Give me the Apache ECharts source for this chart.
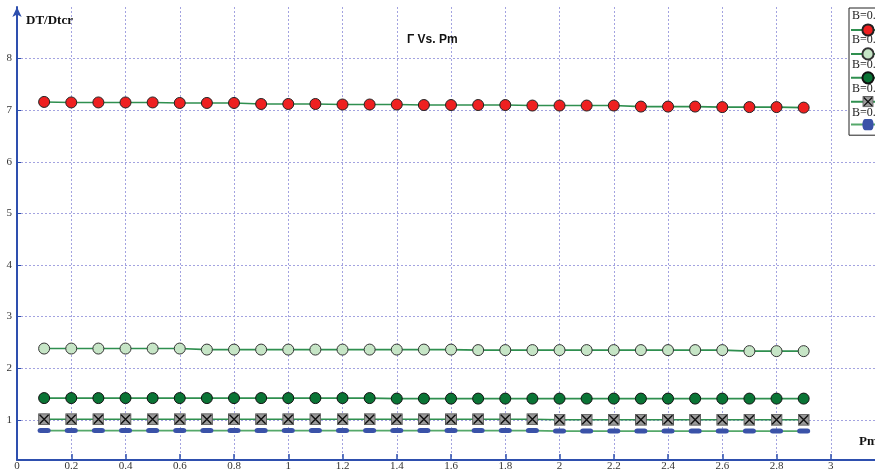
<!DOCTYPE html>
<html>
<head>
<meta charset="utf-8">
<script src="https://cdn.jsdelivr.net/npm/echarts@6/dist/echarts.min.js"></script>
<style>html,body{margin:0;padding:0;background:#fff;}#c{width:875px;height:472px;}</style>
</head>
<body>
<div id="c"></div>
<script>
const pm = [0.1,0.2,0.3,0.4,0.5,0.6,0.7,0.8,0.9,1.0,1.1,1.2,1.3,1.4,1.5,1.6,1.7,1.8,1.9,2.0,2.1,2.2,2.3,2.4,2.5,2.6,2.7,2.8,2.9];
const b01 = [7.16,7.15,7.15,7.15,7.15,7.14,7.14,7.14,7.12,7.12,7.12,7.11,7.11,7.11,7.10,7.10,7.10,7.10,7.09,7.09,7.09,7.09,7.07,7.07,7.07,7.06,7.06,7.06,7.05];
const b03 = [2.38,2.38,2.38,2.38,2.38,2.38,2.36,2.36,2.36,2.36,2.36,2.36,2.36,2.36,2.36,2.36,2.35,2.35,2.35,2.35,2.35,2.35,2.35,2.35,2.35,2.35,2.33,2.33,2.33];
const b05 = [1.42,1.42,1.42,1.42,1.42,1.42,1.42,1.42,1.42,1.42,1.42,1.42,1.42,1.41,1.41,1.41,1.41,1.41,1.41,1.41,1.41,1.41,1.41,1.41,1.41,1.41,1.41,1.41,1.41];
const b07 = [1.01,1.01,1.01,1.01,1.01,1.01,1.01,1.01,1.01,1.01,1.01,1.01,1.01,1.01,1.01,1.01,1.01,1.01,1.01,1.00,1.00,1.00,1.00,1.00,1.00,1.00,1.00,1.00,1.00];
const b09 = [0.79,0.79,0.79,0.79,0.79,0.79,0.79,0.79,0.79,0.79,0.79,0.79,0.79,0.79,0.79,0.79,0.79,0.79,0.79,0.78,0.78,0.78,0.78,0.78,0.78,0.78,0.78,0.78,0.78];
const seriesNames = ['B=0.1','B=0.3','B=0.5','B=0.7','B=0.9'];
const titleText = 'Γ Vs. Pm';
const yName = 'DT/Dtcr';
const xName = 'Pm';

const pair = arr => arr.map((v,i)=>[pm[i], v]);
const xSvg = 'image://data:image/svg+xml;utf8,' + encodeURIComponent('<svg xmlns="http://www.w3.org/2000/svg" width="12" height="12" viewBox="0 0 12 12"><rect x="0.5" y="0.5" width="11" height="11" fill="#9a9a9a" stroke="#555" stroke-width="1"/><path d="M1.5 1.5 L10.5 10.5 M10.5 1.5 L1.5 10.5" stroke="#111" stroke-width="1.4"/></svg>');
const pill = 'path://M3,0 H11 A3,3 0 0 1 11,6 H3 A3,3 0 0 1 3,0 Z';
const lineGreen = '#2f8f4f';
const serif = '"Liberation Serif", "DejaVu Serif", serif';

const chart = echarts.init(document.getElementById('c'));
function mk(name, data, symbol, size, fill, border, lineColor) {
  return {
    name, type: 'line', data: pair(data), symbol, symbolSize: size,
    itemStyle: { color: fill, borderColor: border, borderWidth: border ? 1 : 0 },
    lineStyle: { color: lineColor, width: 1.6 },
    emphasis: { disabled: true }, animation: false
  };
}
chart.setOption({
  animation: false,
  title: [
    { text: titleText, left: 402, top: 29, textStyle: { fontFamily: '"Liberation Sans", Arial, sans-serif', fontWeight: 'bold', fontSize: 12, color: '#111' } },
    { text: yName, left: 21, top: 9, textStyle: { fontFamily: serif, fontWeight: 'bold', fontSize: 13, color: '#111' } },
    { text: xName, left: 859, top: 435, padding: 0, textStyle: { fontFamily: serif, fontWeight: 'bold', fontSize: 13, color: '#111' } }
  ],
  grid: { left: 17, right: 0, top: 7, bottom: 11, containLabel: false },
  legend: [
    { data: seriesNames, orient: 'vertical', left: 849, top: 8, itemWidth: 34, itemHeight: 14, itemGap: 10.3,
      padding: [15, 40, 5, 1], backgroundColor: '#fff', borderColor: '#222', borderWidth: 1,
      formatter: () => '', textStyle: { fontSize: 1 }, selectedMode: false, z: 4 },
    { data: seriesNames.map(n => ({ name: n, icon: 'none' })), orient: 'vertical', left: 847, top: 10, itemWidth: 0, itemHeight: 12, itemGap: 12.3,
      padding: 0, textStyle: { fontFamily: serif, fontSize: 12, color: '#222', padding: [0,0,0,0] }, selectedMode: false, z: 6 }
  ],
  xAxis: {
    type: 'value', min: 0, max: 3.163, interval: 0.2,
    axisLine: { lineStyle: { color: '#2e4fae', width: 2 } },
    axisTick: { inside: true, length: 6, lineStyle: { color: '#2e4fae', width: 1.5 } },
    axisLabel: { margin: 1, fontFamily: serif, fontSize: 11, color: '#333', showMaxLabel: false,
      formatter: v => (Math.abs(v*5 - Math.round(v*5)) < 1e-6) ? String(Math.round(v*10)/10) : '' },
    splitLine: { show: true, showMaxLine: false, lineStyle: { color: '#a3a3e0', type: [2,2], width: 1 } }
  },
  yAxis: {
    type: 'value', min: 0.22, max: 9, splitNumber: 9,
    axisLine: { show: true, lineStyle: { color: '#2e4fae', width: 2 }, symbol: ['none','arrow'], symbolSize: [7,10] },
    axisTick: { show: true, inside: true, length: 4, lineStyle: { color: '#2e4fae', width: 1 } },
    axisLabel: { margin: 5, fontFamily: serif, fontSize: 11, color: '#333', showMinLabel: false, showMaxLabel: false,
      formatter: v => (Math.abs(v - Math.round(v)) < 1e-6 && v >= 1 && v <= 8) ? String(Math.round(v)) : '' },
    splitLine: { show: true, showMaxLine: false, lineStyle: { color: '#a3a3e0', type: [2,2], width: 1 } }
  },
  series: [
    mk('B=0.1', b01, 'circle', 11, '#ee2020', '#222', lineGreen),
    mk('B=0.3', b03, 'circle', 11, '#c6e5c6', '#333', lineGreen),
    mk('B=0.5', b05, 'circle', 11, '#0a7435', '#111', lineGreen),
    mk('B=0.7', b07, xSvg, 12, '#9a9a9a', null, lineGreen),
    mk('B=0.9', b09, pill, [13,5], '#3a52a8', null, '#55a86a')
  ]
});
</script>
</body>
</html>
